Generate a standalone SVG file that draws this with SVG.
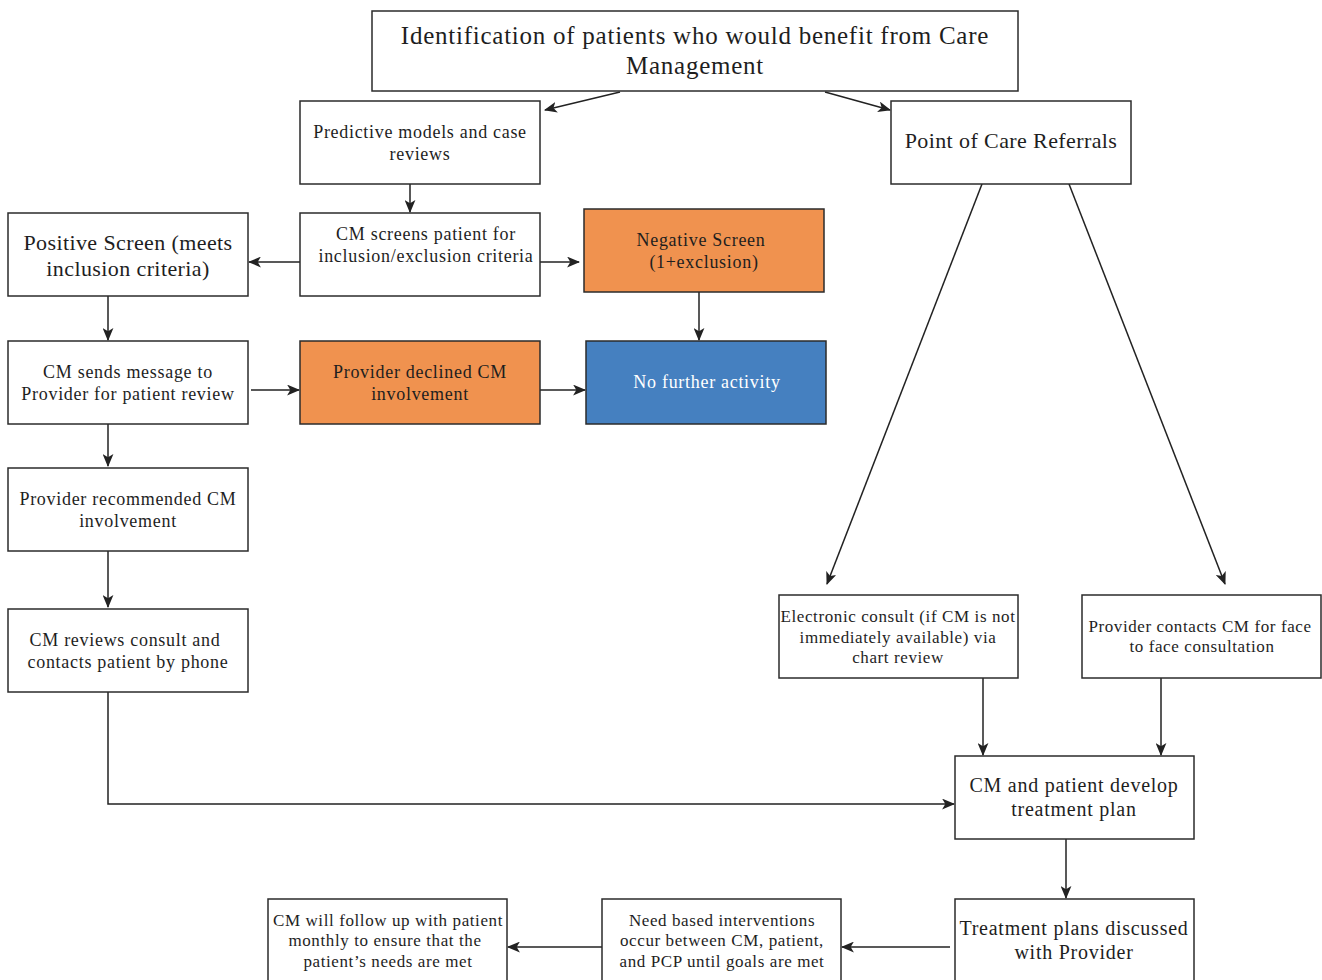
<svg xmlns="http://www.w3.org/2000/svg" width="1322" height="980" viewBox="0 0 1322 980">
  <style>
    .box { fill: #ffffff; stroke: #2b2b2b; stroke-width: 1.5; }
    .orange { fill: #f0924f; stroke: #2b2b2b; stroke-width: 1.5; }
    .blue { fill: #4580c0; stroke: #2b2b2b; stroke-width: 1.5; }
    text { font-family: "Liberation Serif", "Times New Roman", serif; fill: #1e1e1e; text-anchor: middle; }
    .t17 { font-size: 18px; letter-spacing: 0.7px; }
    .t16 { font-size: 17px; letter-spacing: 0.6px; }
    .t19 { font-size: 20px; letter-spacing: 0.75px; }
    .t21 { font-size: 22px; letter-spacing: 0.4px; }
    .t24 { font-size: 25px; letter-spacing: 0.75px; }
    .white { fill: #ffffff; }
    .conn { fill: none; stroke: #222222; stroke-width: 1.5; marker-end: url(#arrow); }
  </style>
  <defs>
    <marker id="arrow" viewBox="0 0 12 10" refX="11" refY="5" markerWidth="13" markerHeight="11" markerUnits="userSpaceOnUse" orient="auto">
      <path d="M0,0 L12,5 L0,10 L3,5 Z" fill="#222222"/>
    </marker>
  </defs>
  <rect width="1322" height="980" fill="#ffffff"/>

  <g id="connectors">
    <path class="conn" d="M620,92 L545,110"/>
    <path class="conn" d="M825,92 L890,110"/>
    <path class="conn" d="M410,184 L410,212"/>
    <path class="conn" d="M300,262 L249,262"/>
    <path class="conn" d="M540,262 L579,262"/>
    <path class="conn" d="M108,296 L108,340"/>
    <path class="conn" d="M699,292 L699,340"/>
    <path class="conn" d="M251,390 L299,390"/>
    <path class="conn" d="M540,390 L585,390"/>
    <path class="conn" d="M108,424 L108,466"/>
    <path class="conn" d="M108,551 L108,607"/>
    <path class="conn" d="M108,692 L108,804 L954,804"/>
    <path class="conn" d="M982,184 L827,584"/>
    <path class="conn" d="M1069,184 L1225,584"/>
    <path class="conn" d="M983,678 L983,755"/>
    <path class="conn" d="M1161,678 L1161,755"/>
    <path class="conn" d="M1066,839 L1066,898"/>
    <path class="conn" d="M950,947 L842,947"/>
    <path class="conn" d="M602,947 L508,947"/>
  </g>

  <g id="identification">
    <rect class="box" x="372" y="11" width="646" height="80"/>
    <text class="t24" x="695" y="44">Identification of patients who would benefit from Care</text>
    <text class="t24" x="695" y="74">Management</text>
  </g>
  <g id="predictive">
    <rect class="box" x="300" y="101" width="240" height="83"/>
    <text class="t17" x="420" y="138">Predictive models and case</text>
    <text class="t17" x="420" y="160">reviews</text>
  </g>
  <g id="point-of-care">
    <rect class="box" x="891" y="101" width="240" height="83"/>
    <text class="t21" x="1011" y="148" letter-spacing="0.6">Point of Care Referrals</text>
  </g>
  <g id="positive-screen">
    <rect class="box" x="8" y="213" width="240" height="83"/>
    <text class="t21" x="128" y="250">Positive Screen (meets</text>
    <text class="t21" x="128" y="276">inclusion criteria)</text>
  </g>
  <g id="cm-screens">
    <rect class="box" x="300" y="213" width="240" height="83"/>
    <text class="t17" x="426" y="240">CM screens patient for</text>
    <text class="t17" x="426" y="262">inclusion/exclusion criteria</text>
  </g>
  <g id="negative-screen">
    <rect class="orange" x="584" y="209" width="240" height="83"/>
    <text class="t17" x="701" y="246">Negative Screen</text>
    <text class="t17" x="704" y="268">(1+exclusion)</text>
  </g>
  <g id="cm-sends">
    <rect class="box" x="8" y="341" width="240" height="83"/>
    <text class="t17" x="128" y="378">CM sends message to</text>
    <text class="t17" x="128" y="400">Provider for patient review</text>
  </g>
  <g id="provider-declined">
    <rect class="orange" x="300" y="341" width="240" height="83"/>
    <text class="t17" x="420" y="378">Provider declined CM</text>
    <text class="t17" x="420" y="400">involvement</text>
  </g>
  <g id="no-further">
    <rect class="blue" x="586" y="341" width="240" height="83"/>
    <text class="t17 white" x="707" y="388">No further activity</text>
  </g>
  <g id="provider-recommended">
    <rect class="box" x="8" y="468" width="240" height="83"/>
    <text class="t17" x="128" y="505">Provider recommended CM</text>
    <text class="t17" x="128" y="527">involvement</text>
  </g>
  <g id="cm-reviews">
    <rect class="box" x="8" y="609" width="240" height="83"/>
    <text class="t17" x="125" y="646">CM reviews consult and</text>
    <text class="t17" x="128" y="668">contacts patient by phone</text>
  </g>
  <g id="electronic-consult">
    <rect class="box" x="779" y="595" width="239" height="83"/>
    <text class="t16" x="898" y="622">Electronic consult (if CM is not</text>
    <text class="t16" x="898" y="643">immediately available) via</text>
    <text class="t16" x="898" y="663">chart review</text>
  </g>
  <g id="provider-contacts">
    <rect class="box" x="1082" y="595" width="239" height="83"/>
    <text class="t16" x="1200" y="632">Provider contacts CM for face</text>
    <text class="t16" x="1202" y="652">to face consultation</text>
  </g>
  <g id="develop-plan">
    <rect class="box" x="955" y="756" width="239" height="83"/>
    <text class="t19" x="1074" y="792">CM and patient develop</text>
    <text class="t19" x="1074" y="816">treatment plan</text>
  </g>
  <g id="plans-discussed">
    <rect class="box" x="955" y="899" width="239" height="90"/>
    <text class="t19" x="1074" y="935">Treatment plans discussed</text>
    <text class="t19" x="1074" y="959">with Provider</text>
  </g>
  <g id="interventions">
    <rect class="box" x="602" y="899" width="239" height="90"/>
    <text class="t16" x="722" y="926">Need based interventions</text>
    <text class="t16" x="722" y="946">occur between CM, patient,</text>
    <text class="t16" x="722" y="967">and PCP until goals are met</text>
  </g>
  <g id="follow-up">
    <rect class="box" x="268" y="899" width="239" height="90"/>
    <text class="t16" x="388" y="926">CM will follow up with patient</text>
    <text class="t16" x="385" y="946">monthly to ensure that the</text>
    <text class="t16" x="388" y="967">patient’s needs are met</text>
  </g>
</svg>
